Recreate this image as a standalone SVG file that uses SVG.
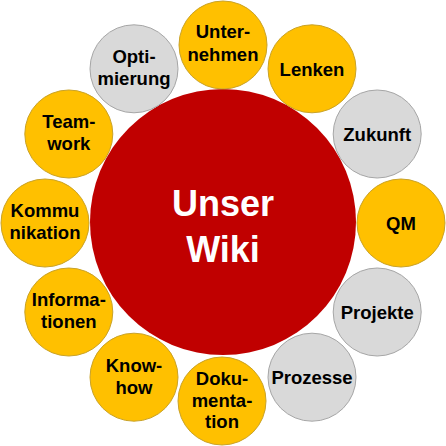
<svg xmlns="http://www.w3.org/2000/svg" width="446" height="446" viewBox="0 0 446 446">
<style>
.y{fill:#FFC000;stroke:#C9A227;stroke-width:1}
.g{fill:#D9D9D9;stroke:#A6A6A6;stroke-width:1}
.t{font-family:"Liberation Sans",Arial,sans-serif;font-weight:bold;font-size:18.5px;fill:#000;text-anchor:middle}
.c{font-family:"Liberation Sans",Arial,sans-serif;font-weight:bold;font-size:36px;fill:#fff;text-anchor:middle}
</style>
<rect width="446" height="446" fill="#fff"/>
<g id="connectors"></g>
<g id="wiki">
<circle cx="223" cy="222" r="133" fill="#C00000"/>
<text class="c" x="223" y="216">Unser</text>
<text class="c" x="223" y="262">Wiki</text>
</g>
<g id="unternehmen">
<circle class="y" cx="223" cy="45" r="44"/>
<text class="t" x="223" y="38">Unter-</text>
<text class="t" x="223" y="61">nehmen</text>
</g>
<g id="lenken">
<circle class="y" cx="312" cy="68.8" r="44"/>
<text class="t" x="312" y="75.5">Lenken</text>
</g>
<g id="zukunft">
<circle class="g" cx="377.2" cy="134" r="44"/>
<text class="t" x="377.2" y="140.7">Zukunft</text>
</g>
<g id="qm">
<circle class="y" cx="401" cy="223" r="44"/>
<text class="t" x="401" y="229.7">QM</text>
</g>
<g id="projekte">
<circle class="g" cx="377.2" cy="312" r="44"/>
<text class="t" x="377.2" y="318.7">Projekte</text>
</g>
<g id="prozesse">
<circle class="g" cx="312" cy="377.2" r="44"/>
<text class="t" x="312" y="383.9">Prozesse</text>
</g>
<g id="dokumentation">
<circle class="y" cx="222" cy="401" r="44"/>
<text class="t" x="222" y="385">Doku-</text>
<text class="t" x="222" y="406.5">menta-</text>
<text class="t" x="222" y="428">tion</text>
</g>
<g id="knowhow">
<circle class="y" cx="134" cy="377.2" r="44"/>
<text class="t" x="134" y="371.5">Know-</text>
<text class="t" x="134" y="393.5">how</text>
</g>
<g id="informationen">
<circle class="y" cx="68.8" cy="312" r="44"/>
<text class="t" x="68.8" y="306.3">Informa-</text>
<text class="t" x="68.8" y="328.3">tionen</text>
</g>
<g id="kommunikation">
<circle class="y" cx="45" cy="223" r="44"/>
<text class="t" x="45" y="217.3">Kommu</text>
<text class="t" x="45" y="239.3">nikation</text>
</g>
<g id="teamwork">
<circle class="y" cx="68.8" cy="134" r="44"/>
<text class="t" x="68.8" y="128.3">Team-</text>
<text class="t" x="68.8" y="150.3">work</text>
</g>
<g id="optimierung">
<circle class="g" cx="134" cy="68.8" r="44"/>
<text class="t" x="134" y="63">Opti-</text>
<text class="t" x="134" y="85">mierung</text>
</g>
</svg>
